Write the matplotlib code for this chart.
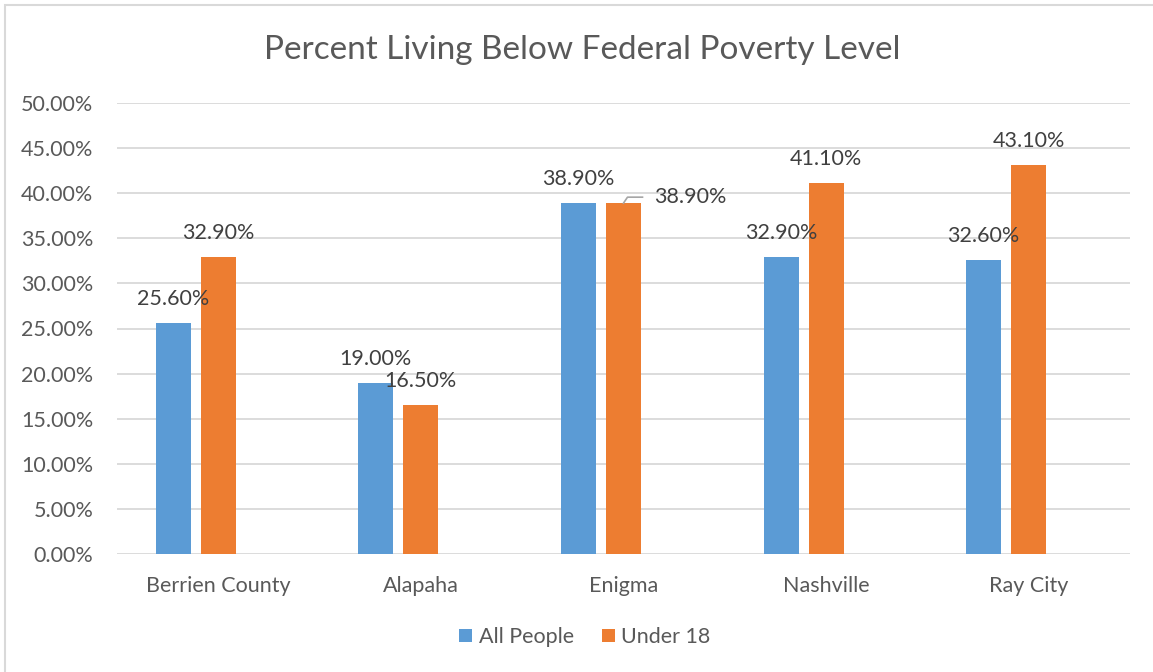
import matplotlib.pyplot as plt
from matplotlib.patches import Rectangle
import numpy as np

categories = ["Berrien County", "Alapaha", "Enigma", "Nashville", "Ray City"]
all_people = [0.256, 0.190, 0.389, 0.329, 0.326]
under_18 = [0.329, 0.165, 0.389, 0.411, 0.431]
series_names = ["All People", "Under 18"]

blue = "#5B9BD5"
orange = "#ED7D31"
text_color = "#595959"
grid_color = "#D9D9D9"

plt.rcParams.update({
    "font.family": ["Lato", "DejaVu Sans"],
    "font.size": 15.5,
    "text.color": text_color,
})

fig = plt.figure(figsize=(11.53, 6.72), dpi=100)
fig.patches.append(Rectangle((5/1153, -0.1), 1.2, 1 - 5/672 + 0.1, transform=fig.transFigure,
                             fill=False, edgecolor=grid_color, linewidth=1.5))
ax = fig.add_axes([117/1153, 1 - 554/672, (1130 - 117)/1153, (554 - 103)/672])

x = np.arange(len(categories))
w = 35/202.6
off = 45/202.6
b1 = ax.bar(x - off, all_people, w, color=blue, label=series_names[0], zorder=3)
b2 = ax.bar(x, under_18, w, color=orange, label=series_names[1], zorder=3)

ax.set_xlim(-0.5, len(categories) - 0.5)
ax.set_ylim(0, 0.5)
ax.set_yticks(np.arange(0, 0.501, 0.05))
ax.set_yticklabels(["%.2f%%" % (v*100) for v in np.arange(0, 0.501, 0.05)])
ax.set_xticks(x)
ax.set_xticklabels(categories)
ax.tick_params(axis="y", length=0, pad=17, labelcolor=text_color)
ax.tick_params(axis="x", length=0, pad=16, labelcolor=text_color)
ax.grid(axis="y", color=grid_color, linewidth=1.3, zorder=0)
for s in ax.spines.values():
    s.set_visible(False)

for i, v in enumerate(all_people):
    ax.annotate("%.2f%%" % (v*100), (x[i] - off, v), xytext=(0, 24), textcoords="offset pixels",
                ha="center", va="center", color="#404040")
for i, v in enumerate(under_18):
    if categories[i] == "Enigma":
        ax.annotate("%.2f%%" % (v*100), (x[i], v), xytext=(67, 6), textcoords="offset pixels",
                    ha="center", va="center", color="#404040")
        ax.plot([x[i], x[i] + 4/202.6, x[i] + 19/202.6], [v, v + 0.0066, v + 0.0066],
                color="#A6A6A6", linewidth=1.2, zorder=4)
    else:
        ax.annotate("%.2f%%" % (v*100), (x[i], v), xytext=(0, 24), textcoords="offset pixels",
                    ha="center", va="center", color="#404040")

fig.text(582/1153, 1 - 50/672, "Percent Living Below Federal Poverty Level",
         ha="center", va="center", fontsize=24, color=text_color)

fig.legend(handles=[b1, b2], labels=series_names, loc="center", bbox_to_anchor=(585/1153, 1 - 637/672),
           ncol=2, frameon=False, handlelength=0.6, handleheight=0.6, columnspacing=1.3, handletextpad=0.3)

fig.savefig("out.png", dpi=100)
